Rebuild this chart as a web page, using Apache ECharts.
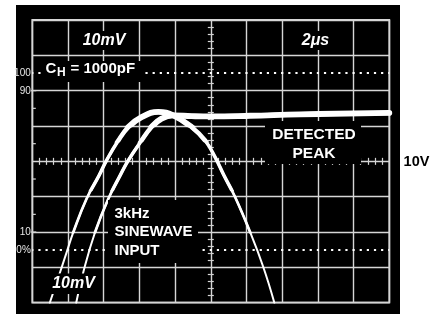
<!DOCTYPE html>
<html>
<head>
<meta charset="utf-8">
<script src="https://cdn.jsdelivr.net/npm/echarts@6/dist/echarts.min.js"></script>
<style>
  html, body { margin: 0; padding: 0; background: #fff; }
  #chart { width: 445px; height: 314px; }
</style>
</head>
<body>
<div id="chart"></div>
<script>
// traces in screen divisions from the centre (x -5..5, y -4..4)
const sineInput = [
  [-4.51, -4.0], [-4.22, -3.13], [-4.02, -2.52], [-3.85, -2.0], [-3.48, -1.06],
  [-3.13, -0.40], [-2.92, 0.03], [-2.59, 0.59], [-2.31, 0.97], [-1.94, 1.25],
  [-1.47, 1.40], [-1.05, 1.30], [-0.54, 0.97], [-0.16, 0.59], [0.12, 0.12],
  [0.36, -0.38], [0.68, -1.01], [1.10, -2.0], [1.47, -2.99], [1.78, -4.0]
];
const detectedPeak = [
  [-3.77, -4.0], [-3.57, -3.13], [-3.24, -2.0], [-2.87, -1.06], [-2.54, -0.40],
  [-2.31, 0.03], [-1.94, 0.59], [-1.66, 0.97], [-1.38, 1.21], [-1.05, 1.30],
  [-0.54, 1.28], [0.0, 1.27], [1.10, 1.29], [2.50, 1.33], [5.0, 1.37]
];
const percentLabels = ['100', '90', '10', '0%'];
const percentLevels = [2.5, 2, -2, -2.5];
const dottedLevels = [2.5, -2.5];
const edgeTicks = [1.5, 0.5, -0.5, -1.5];

// the trace gets brighter (thicker) where it moves slowly: width per height band
const bands = [
  { from: -4, width: 2 },
  { from: -2, width: 2.7 },
  { from: -0.8, width: 3.5 },
  { from: 0.6, width: 4.5 },
  { from: 1.05, width: 5.8 }
];

const gridColor = '#d6d6d6';
const white = '#ffffff';
const plot = { left: 32.3, top: 20, width: 357, height: 282.7 };
const divPx = plot.height / 8;

const chart = echarts.init(document.getElementById('chart'));

function axis(min, max, position, main, tickLen) {
  return {
    type: 'value', min: min, max: max, interval: 1, position: position, gridIndex: 0,
    axisLine: main ? { show: false, onZero: true } : { show: false, onZero: true, onZeroAxisIndex: 0 },
    axisTick: { show: false },
    axisLabel: { show: false },
    minorTick: { show: true, splitNumber: 5, length: tickLen, lineStyle: { color: gridColor, width: 1.2 } },
    splitLine: { show: main, lineStyle: { color: gridColor, width: 1.4 } }
  };
}

const grids = [{
  left: plot.left, top: plot.top, width: plot.width, height: plot.height,
  show: true, borderColor: gridColor, borderWidth: 1.8, outerBoundsMode: 'none'
}];
const xAxes = [axis(-5, 5, 'bottom', true, 3.5), axis(-5, 5, 'top', false, 3.5)];
const yAxes = [axis(-4, 4, 'left', true, 3), axis(-4, 4, 'right', false, 3)];
const series = [];

bands.forEach(function (b, i) {
  let xi = 0, yi = 0, gi = 0;
  if (i > 0) {
    gi = grids.length;
    grids.push({ left: plot.left, top: plot.top, width: plot.width, height: (4 - b.from) * divPx, outerBoundsMode: 'none' });
    xi = xAxes.length;
    yi = yAxes.length;
    xAxes.push({ type: 'value', gridIndex: gi, min: -5, max: 5, show: false });
    yAxes.push({ type: 'value', gridIndex: gi, min: b.from, max: 4, show: false });
  }
  [sineInput, detectedPeak].forEach(function (pts) {
    series.push({
      type: 'line', data: pts, xAxisIndex: xi, yAxisIndex: yi, clip: true,
      showSymbol: false, smooth: 0.45, silent: true,
      lineStyle: { color: white, width: b.width, cap: 'round', join: 'round' }
    });
  });
});

series[0].markLine = {
  silent: true, symbol: ['none', 'none'], label: { show: false },
  lineStyle: { color: white, width: 2.2, type: [2.2, 4.94], dashOffset: 1.1 },
  data: dottedLevels.map(v => ({ yAxis: v }))
};

series.push({
  type: 'custom', silent: true, clip: false,
  data: edgeTicks.map(v => [-5, v]),
  renderItem: function (params, api) {
    const p = api.coord([api.value(0), api.value(1)]);
    return { type: 'line', shape: { x1: p[0], y1: p[1], x2: p[0] + 3.5, y2: p[1] }, style: { stroke: gridColor, lineWidth: 1.2 } };
  }
});
series.push({
  type: 'custom', silent: true, clip: false,
  data: percentLevels.map(v => [-5, v]),
  renderItem: function (params, api) {
    const p = api.coord([api.value(0), api.value(1)]);
    const children = [{
      type: 'text', x: p[0] - 1.5, y: p[1] + 0.5,
      style: { text: percentLabels[params.dataIndex], fill: '#e6e6e6', font: '10px "Liberation Sans", Arial, sans-serif', align: 'right', verticalAlign: 'middle' }
    }];
    if (Math.abs(api.value(1)) === 2) {
      children.push({ type: 'line', shape: { x1: p[0] - 1.5, y1: p[1], x2: p[0] + 4, y2: p[1] }, style: { stroke: gridColor, lineWidth: 1.2 } });
    }
    return { type: 'group', children: children };
  }
});

function box(x, y, w, h) {
  return { type: 'rect', z: 100, shape: { x: x, y: y, width: w, height: h }, style: { fill: '#000' } };
}
function txt(text, x, y, font, align, color) {
  return {
    type: 'text', z: 101, x: x, y: y,
    style: { text: text, font: font, fill: color || white, align: align || 'center', verticalAlign: 'middle' }
  };
}
const bold = 'bold 15px "Liberation Sans", Arial, sans-serif';
const italic = 'italic bold 16px "Liberation Sans", Arial, sans-serif';

chart.setOption({
  animation: false,
  grid: grids,
  xAxis: xAxes,
  yAxis: yAxes,
  graphic: [
    { type: 'rect', z: -10, shape: { x: 16, y: 5, width: 384, height: 309 }, style: { fill: '#000' } },
    box(80, 31, 48, 19), txt('10mV', 104, 40.5, italic),
    box(297, 31, 37, 19), txt('2\u03bcs', 315.5, 41, italic),
    box(41.5, 61, 101, 21),
    txt('C', 45.5, 69.2, bold, 'left'),
    txt('H', 57, 72.8, 'bold 12px "Liberation Sans", Arial, sans-serif', 'left'),
    txt('= 1000pF', 70.5, 69.2, bold, 'left'),
    box(265, 121, 96, 43),
    txt('DETECTED', 314, 135, 'bold 15.5px "Liberation Sans", Arial, sans-serif'),
    txt('PEAK', 314, 154, 'bold 15.5px "Liberation Sans", Arial, sans-serif'),
    box(108, 200, 90, 63),
    txt('3kHz', 114.5, 213.5, bold, 'left'),
    txt('SINEWAVE', 114.5, 232, bold, 'left'),
    txt('INPUT', 114.5, 250.5, bold, 'left'),
    box(48, 273.5, 49, 20.5), txt('10mV', 73.5, 283.5, italic),
    txt('10V', 416.5, 161.5, 'bold 14.5px "Liberation Sans", Arial, sans-serif', 'center', '#000')
  ],
  series: series
});
</script>
</body>
</html>
